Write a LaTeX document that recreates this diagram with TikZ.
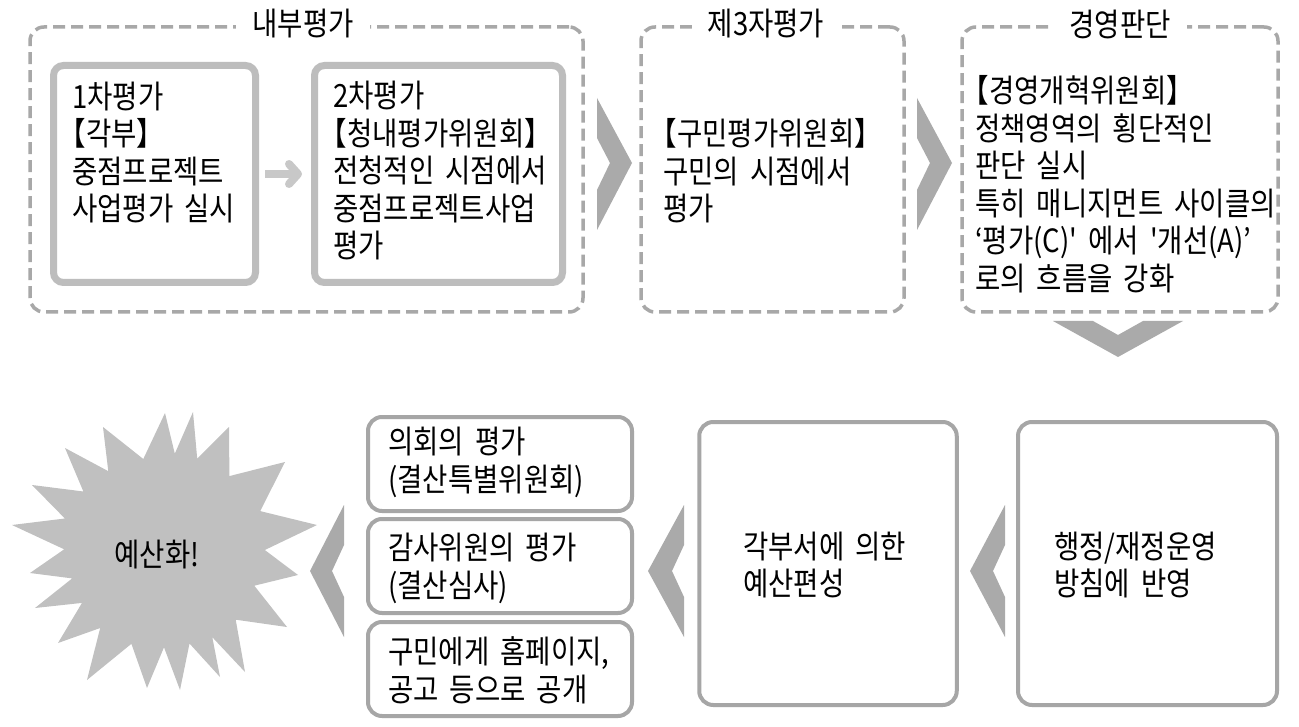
\documentclass[tikz,border=0pt]{standalone}
\usepackage{fontspec}
\newfontfamily\kr{Noto Sans CJK KR}[FakeStretch=0.86,WordSpace=1.8]
\usetikzlibrary{arrows.meta}
\definecolor{dashgray}{HTML}{A8A8A8}
\definecolor{innergray}{HTML}{BDBDBD}
\definecolor{botgray}{HTML}{A6A6A6}
\definecolor{chevgray}{HTML}{AAAAAA}
\definecolor{stargray}{HTML}{C0C0C0}
\definecolor{arrowgray}{HTML}{C8C8C8}
\newcommand{\lbk}{\kern-0.42em【}
\begin{document}
\begin{tikzpicture}[x=1pt,y=-1pt,
  grpbox/.style={draw=dashgray,line width=3.5pt,dash pattern=on 12pt off 6pt,rounded corners=14pt,inner sep=0pt},
  innerbox/.style={draw=innergray,line width=7pt,rounded corners=10pt,inner sep=0pt},
  botbox/.style={draw=botgray,line width=4pt,rounded corners=14pt,inner sep=0pt},
  txt/.style={anchor=west,align=left,inner sep=0pt,font=\kr\fontsize{32}{37.5}\selectfont},
  grptitle/.style={fill=white,inner xsep=16pt,inner ysep=2pt,font=\kr\fontsize{32}{37}\selectfont},
  chev/.style={fill=chevgray},
  arrowline/.style={draw=arrowgray,line width=8pt,-{Straight Barb[length=9pt,width=20pt,line cap=round,line join=round]}}
]
\useasboundingbox[fill=white] (0,0) rectangle (1299,727);

% ---------- top row ----------
\node[grpbox,minimum width=553pt,minimum height=285pt] (g1) at (306.5,169.5) {};
\node[grpbox,minimum width=263pt,minimum height=285pt] (g2) at (772.5,169.5) {};
\node[grpbox,minimum width=316pt,minimum height=285pt] (g3) at (1120,169.5) {};

\node[grptitle] (g1t) at (303,24) {내부평가};
\node[grptitle] (g2t) at (766,24) {제3자평가};
\node[grptitle] (g3t) at (1120,24) {경영판단};

\node[innerbox,minimum width=202pt,minimum height=217pt] (b1) at (154.5,174) {};
\node[innerbox,minimum width=248pt,minimum height=217pt] (b2) at (438.5,174) {};
\draw[arrowline,shorten <=6pt,shorten >=9pt] (b1.east) -- (b2.west);

\node[txt] (t1) at (72,152.5) {1차평가\\\lbk 각부】\\중점프로젝트\\사업평가 실시};
\node[txt] (t2) at (333,171) {2차평가\\\lbk 청내평가위원회】\\전청적인 시점에서\\중점프로젝트사업\\평가};
\node[txt] (t3) at (663,171) {\lbk 구민평가위원회】\\구민의 시점에서\\평가};
\node[txt] (t4) at (975,184) {\lbk 경영개혁위원회】\\정책영역의 횡단적인\\판단 실시\\특히 매니지먼트 사이클의\\‘평가(C)' 에서 '개선(A)’\\로의 흐름을 강화};

% chevrons top row
\fill[chev] (597,98) -- (632,163) -- (597,230) -- (597,190) -- (610,163) -- (597,138) -- cycle;
\fill[chev] (917,98) -- (952,163) -- (917,230) -- (917,190) -- (930,163) -- (917,138) -- cycle;
% down chevron
\fill[chev] (1053,321) -- (1093,321) -- (1118,335) -- (1143,321) -- (1183,321) -- (1118,357) -- cycle;

% ---------- bottom row ----------
\node[botbox,minimum width=259pt,minimum height=283pt] (ba) at (1147.5,563.5) {};
\node[botbox,minimum width=257.5pt,minimum height=283pt] (bb) at (828,563.5) {};
\node[botbox,minimum width=264pt,minimum height=94pt] (s1) at (500,464) {};
\node[botbox,minimum width=264pt,minimum height=94pt] (s2) at (500,566) {};
\node[botbox,minimum width=264pt,minimum height=94pt] (s3) at (500,669) {};

\node[txt] (ta) at (1054,565) {행정/재정운영\\방침에 반영};
\node[txt] (tb) at (743,565) {각부서에 의한\\예산편성};
\node[txt] (ts1) at (388,462.5) {의회의 평가\\(결산특별위원회)};
\node[txt] (ts2) at (388,568.5) {감사위원의 평가\\(결산심사)};
\node[txt] (ts3) at (388,670.5) {구민에게 홈페이지,\\공고 등으로 공개};

% left chevrons
\fill[chev] (1005,505) -- (1005,545) -- (993,571) -- (1005,597) -- (1005,637) -- (970,571) -- cycle;
\fill[chev] (684,505) -- (684,545) -- (672,571) -- (684,597) -- (684,637) -- (648,571) -- cycle;
\fill[chev] (344,505) -- (344,545) -- (332,571) -- (344,597) -- (344,637) -- (310,571) -- cycle;

% star
\fill[stargray] (165,413) -- (174.8,453.7) -- (193,412) -- (197.2,458.6) -- (229,427) -- (229.4,476.1)
  -- (285,462) -- (260.2,511.1) -- (317,525) -- (264.8,550) -- (298,575) -- (254.3,585.7)
  -- (287,627) -- (235.7,619.7) -- (245,672) -- (212.3,637.2) -- (220,677) -- (189.5,643.5)
  -- (180,690) -- (164,647.3) -- (147,688) -- (131.4,643.8) -- (87,680) -- (100.2,628)
  -- (58,643) -- (82,602.9) -- (35,608) -- (72.2,578.4) -- (30,573) -- (64.2,549.3)
  -- (12,525) -- (64.9,518.5) -- (32,485) -- (83.4,491.5) -- (65,448) -- (108.3,471.2)
  -- (103,427) -- (143.3,459) -- cycle;
\node[font=\kr\fontsize{32}{37}\selectfont,inner sep=0pt] (star) at (157,555) {예산화!};
\end{tikzpicture}
\end{document}
